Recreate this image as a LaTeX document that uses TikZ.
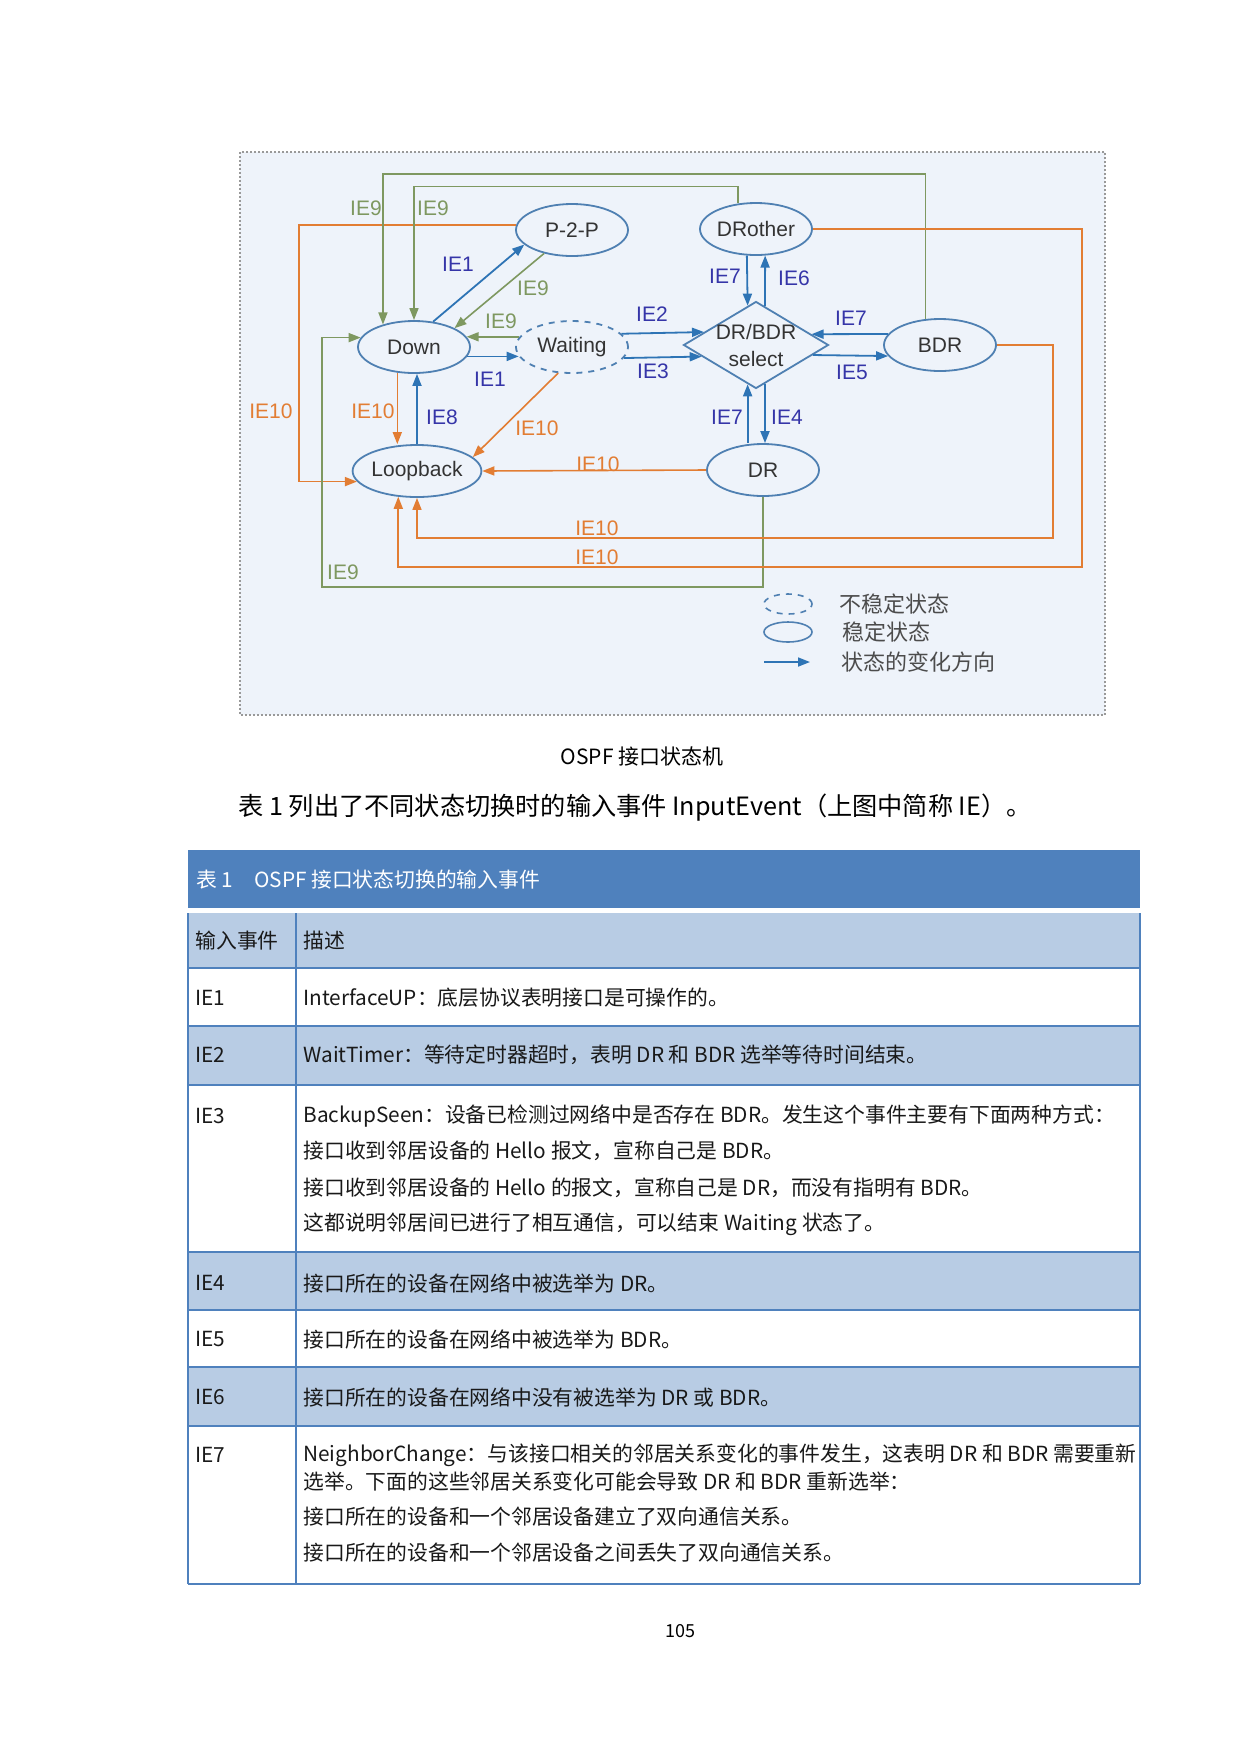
\documentclass[tikz,border=0pt]{standalone}
\usepackage{fontspec}
\setmainfont{Noto Sans CJK SC}
\newfontfamily\dgfont{Liberation Sans}
\usetikzlibrary{arrows.meta, shapes.geometric}
\definecolor{framebg}{HTML}{EEF3FA}
\definecolor{statestroke}{HTML}{4F80B2}
\definecolor{ieblue}{HTML}{2E74B5}
\definecolor{ielabel}{HTML}{3535A8}
\definecolor{iegreen}{HTML}{7E9860}
\definecolor{ieorange}{HTML}{E27D33}
\definecolor{headblue}{HTML}{4F81BD}
\definecolor{rowblue}{HTML}{B8CCE4}

\begin{document}
\begin{tikzpicture}[x=0.5pt, y=-0.5pt,
  state/.style={ellipse, draw=statestroke, line width=0.9pt, inner sep=0pt,
    minimum width=56pt, minimum height=26pt,
    font=\dgfont\fontsize{10.5pt}{12pt}\selectfont, text=black!80},
  flow/.style={draw=ieblue, line width=0.9pt, -{Triangle[length=6pt,width=4.5pt]}},
  back/.style={draw=iegreen, line width=0.8pt, -{Triangle[length=6pt,width=4.5pt]}},
  drop/.style={draw=ieorange, line width=0.8pt, -{Triangle[length=6pt,width=4.5pt]}},
  ielab/.style={font=\dgfont\fontsize{10.5pt}{12pt}\selectfont, inner sep=1pt},
  cell/.style={anchor=west, inner sep=0pt, font=\fontsize{10.4pt}{13pt}\selectfont, text=black!90},
  tabline/.style={draw=headblue, line width=1pt}]
  \useasboundingbox (0,0) rectangle (1240,1753);
  \fill[white] (0,0) rectangle (1240,1753);

  % diagram frame
  \filldraw[fill=framebg, draw=gray!80, densely dotted, line width=1pt] (240,152) rectangle (1105,715);

  \node[state] (down) at (414,347) {Down};
  \node[state] (p2p) at (572,230) {P-2-P};
  \node[state, dashed] (wait) at (572,347) {Waiting};
  \node[state] (loop) at (417,471) {Loopback};
  \node[state] (drother) at (756,229) {DRother};
  \node[diamond, draw=statestroke, line width=0.9pt, inner sep=0pt,
    minimum width=72.5pt, minimum height=43.5pt] (sel) at (756,345) {};
  \node[align=center, font=\dgfont\fontsize{10.5pt}{13.5pt}\selectfont, text=black!80] (seltext) at (sel) {DR/BDR\\select};
  \node[state] (bdr) at (940,345) {BDR};
  \node[state] (dr) at (763,470) {DR};

  \draw[flow] (down.53) -- (p2p.197);
  \draw[back] (p2p.220) -- (down.25);
  \draw[back] (wait.169) -- (down.11);
  \draw[flow] (down.-10) -- (wait.190);
  \draw[drop] (down.237) -- (down.237 |- loop.north);
  \draw[flow] (loop.north) -- (loop.north |- down.south);
  \draw[drop] (wait.242) -- (loop.14);
  \draw[drop] (p2p.175) -- ++(-217,0) |- (loop.190);
  \draw[back] (bdr.119) -- ++(0,-145) -| (down.144);
  \draw[back] (drother.125) -- ++(0,-17) -| (down.north);
  \draw[back] (dr.south) |- (322,587) |- (down.170);
  \draw[drop] (drother.east) -| (1082,567) -| (loop.234);
  \draw[drop] (bdr.east) -| (1053,538) -| (loop.south);
  \draw[drop] (dr.west) -- (loop.east);
  \draw[flow] (wait.15) -- (sel.166);
  \draw[flow] (wait.-12) -- (sel.-168);
  \draw[flow] (drother.-109) -- (sel.102.5);
  \draw[flow] (sel.77.5) -- (drother.-71);
  \draw[flow] (bdr.168) -- (sel.11.5);
  \draw[flow] (sel.-10.5) -- (bdr.192);
  \draw[flow] (sel.-102.5 |- dr.north) -- (sel.-102.5);
  \draw[flow] (sel.-77.5) -- (sel.-77.5 |- dr.north);

  \foreach \t/\x/\y/\c [count=\i] in {IE9/366/208/iegreen, IE9/433/208/iegreen,
      IE1/458/264/ielabel, IE9/533/288/iegreen, IE9/501/321/iegreen, IE1/490/379/ielabel,
      IE10/271/411/ieorange, IE10/373/411/ieorange, IE8/442/417/ielabel, IE10/537/428/ieorange,
      IE2/652/314/ielabel, IE3/653/371/ielabel, IE7/725/276/ielabel, IE6/794/278/ielabel,
      IE7/851/318/ielabel, IE5/852/372/ielabel, IE7/727/417/ielabel, IE4/787/417/ielabel,
      IE10/598/464/ieorange, IE10/597/528/ieorange, IE10/597/557/ieorange, IE9/343/572/iegreen}
    \node[ielab, text=\c] (lab\i) at (\x,\y) {\t};

  % legend
  \node[ellipse, draw=statestroke, dashed, line width=0.8pt, minimum width=24pt, minimum height=10pt, inner sep=0pt] (keyunstable) at (788,604) {};
  \node[ellipse, draw=statestroke, line width=0.8pt, minimum width=24pt, minimum height=10pt, inner sep=0pt] (keystable) at (788,632) {};
  \coordinate (keya) at (764,662);
  \coordinate (keyb) at (810,662);
  \draw[flow] (keya) -- (keyb);
  \node[anchor=west, inner sep=0pt, font=\fontsize{11pt}{13pt}\selectfont, text=black!70] (keyt1) at (839,604) {不稳定状态};
  \node[anchor=west, inner sep=0pt, font=\fontsize{11pt}{13pt}\selectfont, text=black!70] (keyt2) at (842,632) {稳定状态};
  \node[anchor=west, inner sep=0pt, font=\fontsize{11pt}{13pt}\selectfont, text=black!70] (keyt3) at (841,662) {状态的变化方向};

  \node[font=\fontsize{10.5pt}{12pt}\selectfont] (caption) at (642,756) {OSPF 接口状态机};
  \node[anchor=west, inner sep=0pt, font=\fontsize{12.6pt}{14pt}\selectfont] (para) at (238,808) {表 1 列出了不同状态切换时的输入事件 InputEvent（上图中简称 IE）。};

  % table
  \fill[headblue] (188,850) rectangle (1140,908);
  \foreach \ya/\yb/\fc in {913/968/rowblue, 968/1026/white, 1026/1085/rowblue, 1085/1252/white,
      1252/1310/rowblue, 1310/1367/white, 1367/1426/rowblue, 1426/1584/white}
    \fill[\fc] (188,\ya) rectangle (1140,\yb);
  \foreach \y in {968,1026,1085,1252,1310,1367,1426,1584}
    \draw[tabline] (188,\y) -- (1140,\y);
  \foreach \x in {188,296,1140}
    \draw[tabline] (\x,913) -- (\x,1584);
  \node[cell, text=white] (tabtitle) at (196,880) {表 1\quad OSPF 接口状态切换的输入事件};
  \foreach \x/\y/\t [count=\i] in {195/941/输入事件, 303/941/描述,
      195/998/IE1, 303/998/{InterfaceUP：底层协议表明接口是可操作的。},
      195/1055/IE2, 303/1055/{WaitTimer：等待定时器超时，表明 DR 和 BDR 选举等待时间结束。},
      195/1116/IE3, 303/1116/{BackupSeen：设备已检测过网络中是否存在 BDR。发生这个事件主要有下面两种方式：},
      303/1151/{接口收到邻居设备的 Hello 报文，宣称自己是 BDR。},
      303/1188/{接口收到邻居设备的 Hello 的报文，宣称自己是 DR，而没有指明有 BDR。},
      303/1224/{这都说明邻居间已进行了相互通信，可以结束 Waiting 状态了。},
      195/1283/IE4, 303/1283/{接口所在的设备在网络中被选举为 DR。},
      195/1339/IE5, 303/1339/{接口所在的设备在网络中被选举为 BDR。},
      195/1397/IE6, 303/1397/{接口所在的设备在网络中没有被选举为 DR 或 BDR。},
      195/1455/IE7, 303/1455/{NeighborChange：与该接口相关的邻居关系变化的事件发生，这表明 DR 和 BDR 需要重新},
      303/1482/{选举。下面的这些邻居关系变化可能会导致 DR 和 BDR 重新选举：},
      303/1517/{接口所在的设备和一个邻居设备建立了双向通信关系。},
      303/1553/{接口所在的设备和一个邻居设备之间丢失了双向通信关系。}}
    \node[cell] (cell\i) at (\x,\y) {\t};

  \node[font=\fontsize{9pt}{11pt}\selectfont] (pageno) at (680,1631) {105};
\end{tikzpicture}
\end{document}
